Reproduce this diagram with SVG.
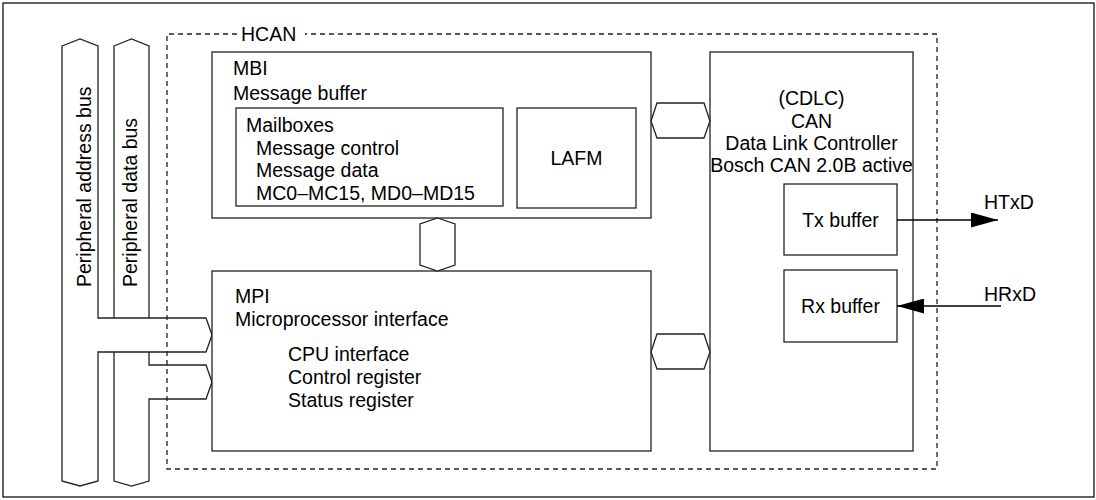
<svg xmlns="http://www.w3.org/2000/svg" width="1096" height="500" viewBox="0 0 1096 500">
<style>
text{font-family:"Liberation Sans",Arial,sans-serif;font-size:19.5px;fill:#000}
.box{fill:#fff;stroke:#222;stroke-width:1.3}
.bus{fill:#fff;stroke:#222;stroke-width:1.3;stroke-linejoin:miter}
.dash{fill:none;stroke:#222;stroke-width:1.3;stroke-dasharray:5 4}
.line{fill:none;stroke:#000;stroke-width:1.3}
.mid{text-anchor:middle}
</style>
<defs>
<marker id="ah" viewBox="0 0 27 15" refX="27" refY="7.5" markerWidth="27" markerHeight="15" markerUnits="userSpaceOnUse" orient="auto">
<path d="M0,0 L27,7.5 L0,15 Z" fill="#000"/>
</marker>
</defs>
<rect x="3" y="3" width="1091" height="494" fill="#fff" stroke="#111" stroke-width="1.3"/>

<g id="data-bus">
<path class="bus" d="M114,46 L131.5,39 L149,46 L149,365 L206,365 L212,382 L206,399 L149,399 L149,481 L131.5,486 L114,481 Z"/>
<text transform="translate(137,287) rotate(-90)">Peripheral data bus</text>
</g>
<g id="address-bus">
<path class="bus" d="M62,46 L80,39 L98,46 L98,318 L206,318 L212,335 L206,352 L98,352 L98,481 L80,486 L62,481 Z"/>
<text transform="translate(91,287) rotate(-90)">Peripheral address bus</text>
</g>

<g id="hcan">
<path class="dash" d="M237,34 L167,34 L167,469 L937,469 L937,34 L305,34"/>
<text x="241" y="41">HCAN</text>
</g>

<g id="mbi">
<rect class="box" x="212" y="52" width="439" height="166"/>
<text x="233" y="75">MBI</text>
<text x="233" y="100">Message buffer</text>
</g>
<g id="mailboxes">
<rect class="box" x="236" y="108" width="267" height="98"/>
<text x="246" y="132">Mailboxes</text>
<text x="256" y="155">Message control</text>
<text x="256" y="177">Message data</text>
<text x="256" y="200">MC0–MC15, MD0–MD15</text>
</g>
<g id="lafm">
<rect class="box" x="517" y="108" width="119" height="100"/>
<text class="mid" x="576.5" y="165">LAFM</text>
</g>

<g id="mpi">
<rect class="box" x="212" y="271" width="439" height="180"/>
<text x="235" y="303">MPI</text>
<text x="235" y="326">Microprocessor interface</text>
<text x="288" y="361">CPU interface</text>
<text x="288" y="384">Control register</text>
<text x="288" y="407">Status register</text>
</g>

<g id="cdlc">
<rect class="box" x="710" y="52" width="203" height="399"/>
<text class="mid" x="811.5" y="105">(CDLC)</text>
<text class="mid" x="811.5" y="128">CAN</text>
<text class="mid" x="811.5" y="150">Data Link Controller</text>
<text class="mid" x="811.5" y="172">Bosch CAN 2.0B active</text>
</g>
<g id="tx-buffer">
<rect class="box" x="784" y="184" width="113" height="71"/>
<text class="mid" x="840.5" y="227">Tx buffer</text>
</g>
<g id="rx-buffer">
<rect class="box" x="784" y="270" width="113" height="72"/>
<text class="mid" x="840.5" y="313">Rx buffer</text>
</g>

<g id="connectors">
<polygon class="bus" points="437.5,218 455,224 455,265 437.5,271 420,265 420,224"/>
<polygon class="bus" points="651,121 657,103 704,103 710,121 704,138 657,138"/>
<polygon class="bus" points="651,352 657,334 704,334 710,352 704,369 657,369"/>
<line class="line" x1="897" y1="220" x2="998" y2="220" marker-end="url(#ah)"/>
<line class="line" x1="1001" y1="306" x2="897" y2="306" marker-end="url(#ah)"/>
</g>
<text x="984" y="209">HTxD</text>
<text x="984" y="301">HRxD</text>
</svg>
